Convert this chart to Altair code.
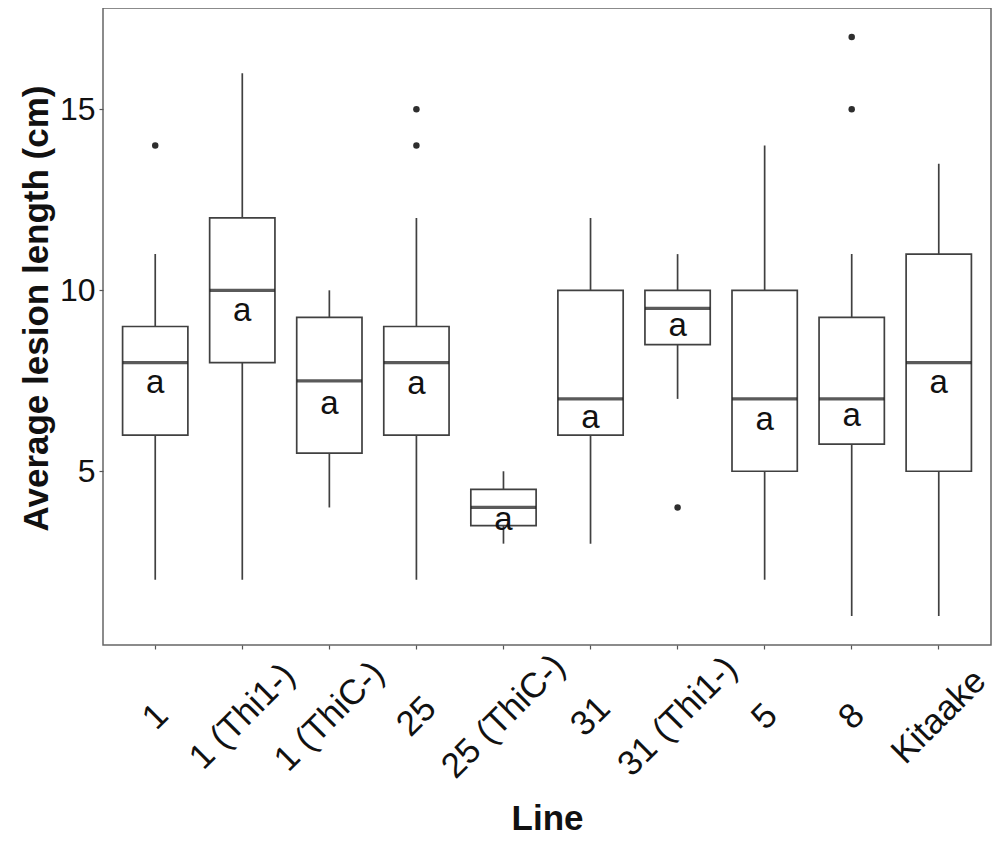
import altair as alt
import pandas as pd

# Data
lines = ["1", "1 (Thi1-)", "1 (ThiC-)", "25", "25 (ThiC-)", "31", "31 (Thi1-)", "5", "8", "Kitaake"]
lower = [2, 2, 4, 2, 3, 3, 7, 2, 1, 1]
q1 = [6, 8, 5.5, 6, 3.5, 6, 8.5, 5, 5.75, 5]
median = [8, 10, 7.5, 8, 4, 7, 9.5, 7, 7, 8]
q3 = [9, 12, 9.25, 9, 4.5, 10, 10, 10, 9.25, 11]
upper = [11, 16, 10, 12, 5, 12, 11, 14, 11, 13.5]
letter = ["a"] * 10
letter_y = [7.43, 9.43, 6.85, 7.42, 3.66, 6.47, 9.01, 6.43, 6.54, 7.43]

outlier_line = ["1", "25", "25", "31 (Thi1-)", "8", "8"]
outlier_val = [14, 14, 15, 4, 15, 17]

df = pd.DataFrame({
    "line": lines, "lower": lower, "q1": q1, "median": median,
    "q3": q3, "upper": upper, "letter": letter, "letter_y": letter_y,
})
dout = pd.DataFrame({"line": outlier_line, "value": outlier_val})

FONT = "Liberation Sans"
BOX = "#404040"

xscale = alt.Scale(domain=lines, paddingInner=0.25, paddingOuter=0.225)
yscale = alt.Scale(domain=[0.2, 17.8], nice=False, zero=False)

xaxis = alt.Axis(
    title="Line", labelAngle=-45, labelAlign="center", labelBaseline="middle",
    labelPadding=67, labelFontSize=35, labelColor="#111111", labelLimit=0,
    labelOverlap=False, labelBound=False, labelFlush=False,
    tickSize=4, tickColor="#555555", tickWidth=1.2, domain=False, grid=False,
    titleFontSize=35, titleFontWeight="bold", titleColor="#111111",
    titleY=184, titleBaseline="alphabetic",
)
yaxis = alt.Axis(
    title="Average lesion length (cm)", values=[5, 10, 15],
    labelFontSize=32, labelColor="#111111", labelPadding=4,
    tickSize=4, tickColor="#555555", tickWidth=1.2, domain=False, grid=False,
    titleFontSize=35, titleFontWeight="bold", titleColor="#111111",
    titleX=-56, titleY=300, titleAngle=-90, titleBaseline="alphabetic",
    titleAlign="center",
)

base = alt.Chart(df).encode(x=alt.X("line:N", scale=xscale, axis=xaxis, sort=lines))

whisker = base.mark_rule(color=BOX, strokeWidth=1.7).encode(
    y=alt.Y("lower:Q", scale=yscale, axis=yaxis), y2="upper:Q"
)
box = base.mark_bar(fill="white", stroke=BOX, strokeWidth=1.7).encode(
    y=alt.Y("q1:Q", scale=yscale), y2="q3:Q"
)
med = base.mark_tick(color="#141414", thickness=3.2, size=65).encode(
    y=alt.Y("median:Q", scale=yscale)
)
txt = base.mark_text(fontSize=33, font=FONT, color="#111111", baseline="middle").encode(
    y=alt.Y("letter_y:Q", scale=yscale), text="letter:N"
)
pts = alt.Chart(dout).mark_circle(size=42, color="#2e2e2e", opacity=1).encode(
    x=alt.X("line:N", scale=xscale, sort=lines),
    y=alt.Y("value:Q", scale=yscale),
)

chart = alt.layer(whisker, box, med, txt, pts).properties(
    width=888, height=637,
    autosize=alt.AutoSizeParams(type="none"),
    padding={"left": 95, "top": 0, "right": 1, "bottom": 190},
).configure(font=FONT).configure_view(stroke="#666666", strokeWidth=1.5)

chart.save("out.html", embed_options={"renderer": "svg", "actions": False})
